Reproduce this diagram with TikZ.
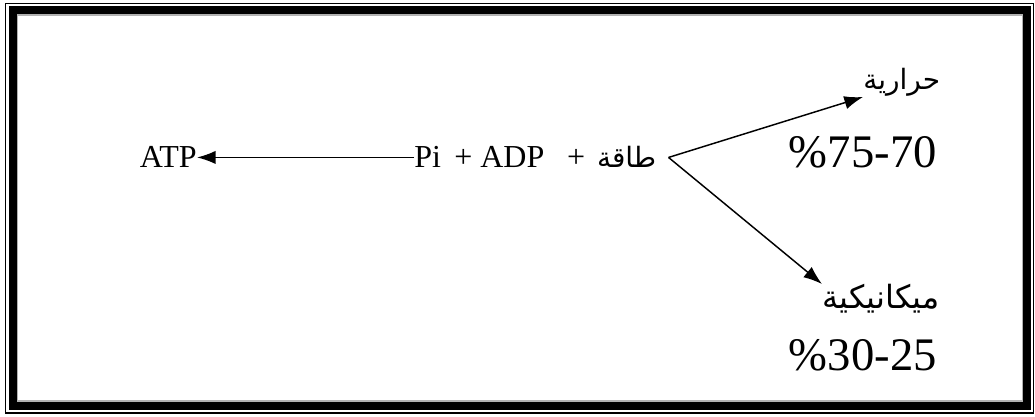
\documentclass[tikz,border=0pt]{standalone}
\usepackage{fontspec}
\setmainfont{Liberation Serif}
\newfontfamily\arabicfont[Script=Arabic]{DejaVu Sans}
\TeXXeTstate=1
\usetikzlibrary{positioning,arrows.meta}
\tikzset{
  chem/.style={font=\fontsize{24}{28}\selectfont, inner sep=0pt},
  arlbl/.style={font=\arabicfont\fontsize{24}{28}\selectfont, inner sep=0pt},
  pct/.style={font=\fontsize{35}{42}\selectfont, inner sep=0pt},
  flow/.style={-{Latex[length=14pt,width=10pt]}, line width=1.1pt},
  frmthick/.style={draw, line width=5.5pt},
  frmthin/.style={draw, line width=1.1pt},
}
\newcommand{\ar}[1]{{\arabicfont\fontsize{21}{26}\selectfont\beginR #1\endR}}

\begin{document}
\begin{tikzpicture}[x=0.75pt,y=-0.75pt]
\useasboundingbox (0,0) rectangle (1035,417);
% double frame
\draw[frmthin] (5.5,3.5) rectangle (1033.5,413);
\draw[frmthick] (13,10) rectangle (1027,406);
\draw[draw=black!30, line width=0.8pt] (17.5,15) rectangle (1022.5,401);
% reaction line
\node[chem, anchor=base east] (atp) at (197,168) {ATP};
\node[chem, anchor=base west] (react) at (414,168) {Pi\hspace{4pt}~+ ADP\hspace{5pt}~~+\hspace{3pt}~\ar{طاقة}};
\path (react.east |- atp.east) ++(12,0) coordinate (fork);
% outputs
\node[arlbl, font=\arabicfont\fontsize{21}{26}\selectfont, anchor=south west] (heat) at (863,97) {\beginR حرارية\endR};
\node[pct, anchor=base east] (heatpct) at (937,168) {\%75-70};
\node[arlbl, anchor=north west] (mech) at (822,284) {\beginR ميكانيكية\endR};
\node[pct, anchor=base east] (mechpct) at (937,370) {\%30-25};
% arrows
\draw[flow] (react.west |- atp.east) -- (atp.east);
\draw[flow] (fork) -- (heat.south west);
\draw[flow] (fork) -- (mech.north west);
\end{tikzpicture}
\end{document}
